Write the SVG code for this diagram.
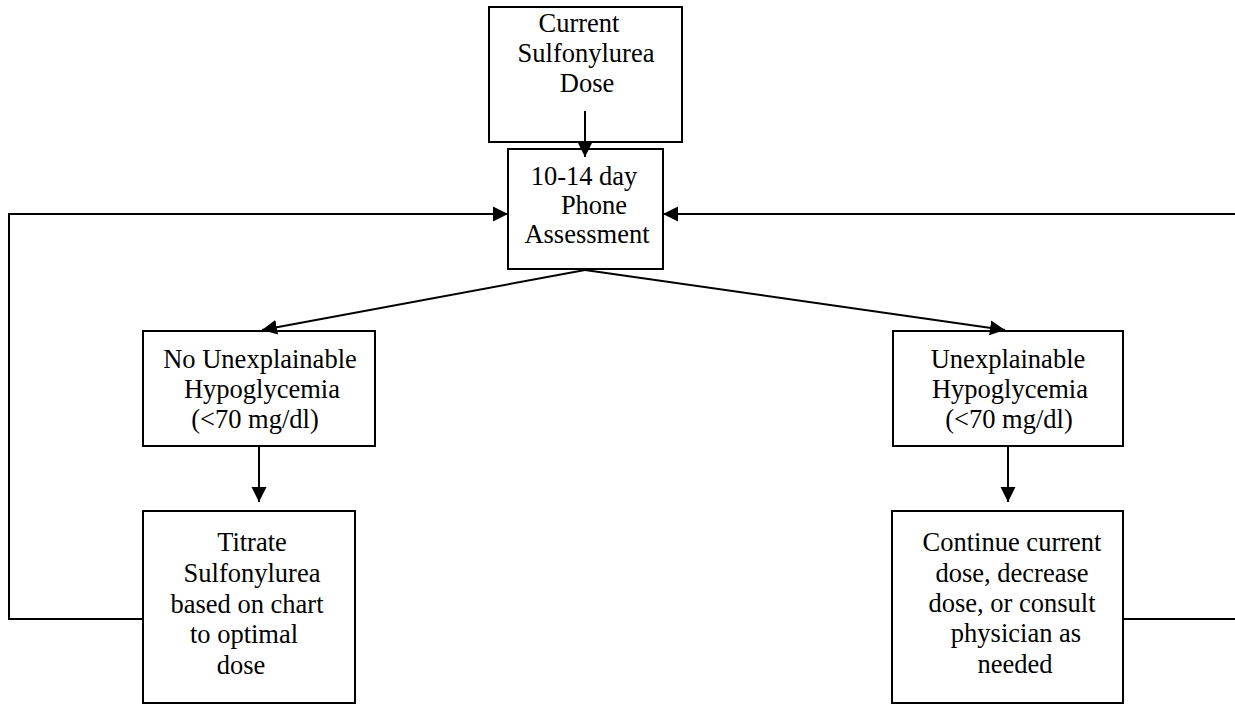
<svg xmlns="http://www.w3.org/2000/svg" width="1235" height="704" viewBox="0 0 1235 704">
<style>
.box{fill:#fff;stroke:#000;stroke-width:2}
.ln{fill:none;stroke:#000;stroke-width:2}
text{font-family:"Liberation Serif","Times New Roman",serif;font-size:26.5px;fill:#000;text-anchor:middle}
</style>
<defs>
<marker id="ah" markerUnits="userSpaceOnUse" markerWidth="16" markerHeight="16" viewBox="0 0 16 16" refX="15" refY="8" orient="auto">
<path d="M0,0.5 L15,8 L0,15.5 Z" fill="#000"/>
</marker>
</defs>
<rect width="1235" height="704" fill="#fff"/>
<g id="current-dose">
<rect class="box" x="489" y="7" width="193" height="135"/>
<text x="579" y="32">Current</text>
<text x="586" y="62">Sulfonylurea</text>
<text x="587" y="92">Dose</text>
</g>
<g id="phone-assessment">
<rect class="box" x="508" y="149" width="155" height="120"/>
<text x="584" y="185">10-14 day</text>
<text x="594" y="214">Phone</text>
<text x="587" y="243">Assessment</text>
</g>
<g id="no-hypo">
<rect class="box" x="143" y="331" width="232" height="115"/>
<text x="260" y="368">No Unexplainable</text>
<text x="262" y="398">Hypoglycemia</text>
<text x="255" y="428">(&lt;70 mg/dl)</text>
</g>
<g id="hypo">
<rect class="box" x="893" y="331" width="230" height="115"/>
<text x="1008" y="368">Unexplainable</text>
<text x="1010" y="398">Hypoglycemia</text>
<text x="1009" y="428">(&lt;70 mg/dl)</text>
</g>
<g id="titrate">
<rect class="box" x="143" y="511" width="212" height="192"/>
<text x="252" y="551">Titrate</text>
<text x="252" y="582">Sulfonylurea</text>
<text x="247" y="613">based on chart</text>
<text x="244" y="643">to optimal</text>
<text x="241" y="674">dose</text>
</g>
<g id="continue">
<rect class="box" x="892" y="511" width="231" height="192"/>
<text x="1012" y="551">Continue current</text>
<text x="1012" y="582">dose, decrease</text>
<text x="1012" y="612">dose, or consult</text>
<text x="1016" y="642">physician as</text>
<text x="1015" y="673">needed</text>
</g>
<g id="connectors">
<line class="ln" x1="585" y1="111" x2="585" y2="157" marker-end="url(#ah)"/>
<polyline class="ln" points="143,619 9,619 9,214 508,214" marker-end="url(#ah)"/>
<polyline class="ln" points="1123,619 1236,619"/>
<line class="ln" x1="1236" y1="214" x2="663" y2="214" marker-end="url(#ah)"/>
<line class="ln" x1="585" y1="270" x2="262" y2="330" marker-end="url(#ah)"/>
<line class="ln" x1="585" y1="270" x2="1005" y2="330" marker-end="url(#ah)"/>
<line class="ln" x1="259" y1="446" x2="259" y2="502" marker-end="url(#ah)"/>
<line class="ln" x1="1008" y1="446" x2="1008" y2="502" marker-end="url(#ah)"/>
</g>
</svg>
